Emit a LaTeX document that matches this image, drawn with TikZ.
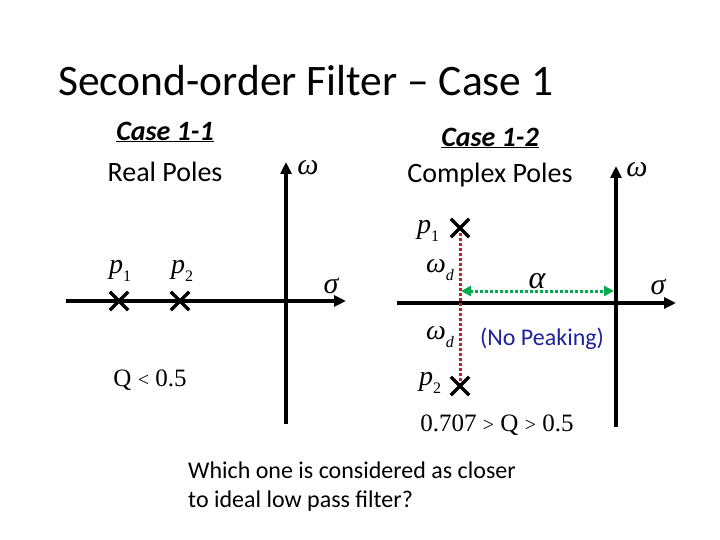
\documentclass[tikz,border=0pt]{standalone}
\usepackage{fontspec}
\setmainfont{Carlito}
\newfontfamily\eqf{Liberation Serif}
\usetikzlibrary{arrows.meta,shapes.misc}
\definecolor{poleRed}{RGB}{192,32,40}
\definecolor{alphaGreen}{RGB}{0,170,80}
\definecolor{noteBlue}{RGB}{32,32,160}
\newcommand{\eqsub}[2]{{\eqf\itshape #1}\raisebox{-0.3em}{\eqf\fontsize{16}{16}\selectfont #2}}

\begin{document}
\begin{tikzpicture}[x=1pt,y=-1pt,
 axis/.style={line width=3.6pt, -{Triangle[length=12pt,width=11pt]}},
 pole/.style={cross out, draw, line width=3.4pt, minimum size=15pt, inner sep=0pt},
 eqlbl/.style={font=\eqf\itshape\fontsize{30}{30}\selectfont},
 plbl/.style={font=\fontsize{28}{28}\selectfont},
 head/.style={font=\fontsize{28}{32}\selectfont, align=center},
]
 \useasboundingbox (0,0) rectangle (720,540);
 % title
 \node[anchor=base west, font=\fontsize{43.5}{48}\selectfont, inner sep=0] (title) at (58,96) {Second-order Filter -- Case 1};
 % case 1-1 : real poles
 \node[head] (c11) at (165,132) {\underline{\textit{\textbf{Case 1-1}}}};
 \node[head] (c11sub) at (165,172) {Real Poles};
 \coordinate (lxs) at (66,301);  \coordinate (lxe) at (346,301);
 \coordinate (lys) at (286,424); \coordinate (lye) at (286,162);
 \draw[axis] (lxs) -- (lxe);
 \draw[axis] (lys) -- (lye);
 \node[eqlbl] (lsig) at (331,286) {σ};
 \node[eqlbl] (lome) at (308,168) {ω};
 \node[pole] (lp1) at (119,301) {};
 \node[pole] (lp2) at (180,301) {};
 \node[plbl] (lp1l) at (120,271) {\eqsub{p}{1}};
 \node[plbl] (lp2l) at (182,271) {\eqsub{p}{2}};
 \node[font=\eqf\fontsize{25}{25}\selectfont] (lq) at (150,380) {Q {\fontsize{20}{20}\selectfont<} 0.5};
 % case 1-2 : complex poles
 \node[head] (c12) at (490,138) {\underline{\textit{\textbf{Case 1-2}}}};
 \node[head] (c12sub) at (490,175) {Complex Poles};
 \coordinate (rxs) at (397,303); \coordinate (rxe) at (676,303);
 \coordinate (rys) at (616,427); \coordinate (rye) at (616,166);
 \draw[axis] (rxs) -- (rxe);
 \draw[axis] (rys) -- (rye);
 \node[eqlbl] (rsig) at (658,287) {σ};
 \node[eqlbl] (rome) at (637,170) {ω};
 \coordinate (rp1c) at (460,228); \coordinate (rp2c) at (460,386);
 \draw[poleRed, line width=3pt, dash pattern=on 3pt off 2pt] (rp1c) -- (rp2c);
 \coordinate (als) at (461,291); \coordinate (ale) at (614,291);
 \draw[alphaGreen, line width=3pt, dash pattern=on 3pt off 2pt,
   {Triangle[length=10pt,width=10pt]}-{Triangle[length=10pt,width=10pt]}] (als) -- (ale);
 \node[pole] (rp1) at (rp1c) {};
 \node[pole] (rp2) at (rp2c) {};
 \node[plbl] (rp1l) at (428,231) {\eqsub{p}{1}};
 \node[plbl] (rp2l) at (430,383) {\eqsub{p}{2}};
 \node[plbl] (wd1) at (440,270) {\eqsub{ω}{\itshape d}};
 \node[plbl] (wd2) at (440,337) {\eqsub{ω}{\itshape d}};
 \node[eqlbl, font=\eqf\itshape\fontsize{32}{32}\selectfont] (alp) at (537,281) {α};
 \node[font=\fontsize{24}{24}\selectfont, text=noteBlue] (peak) at (542,339) {(No Peaking)};
 \node[font=\eqf\fontsize{25}{25}\selectfont] (rq) at (497,425) {0.707 {\fontsize{20}{20}\selectfont>} Q {\fontsize{20}{20}\selectfont>} 0.5};
 % question
 \node[anchor=north west, align=left, inner sep=0, font=\fontsize{24}{29}\selectfont] (ask) at (188,462)
   {Which one is considered as closer\\ to ideal low pass filter?};
\end{tikzpicture}
\end{document}
